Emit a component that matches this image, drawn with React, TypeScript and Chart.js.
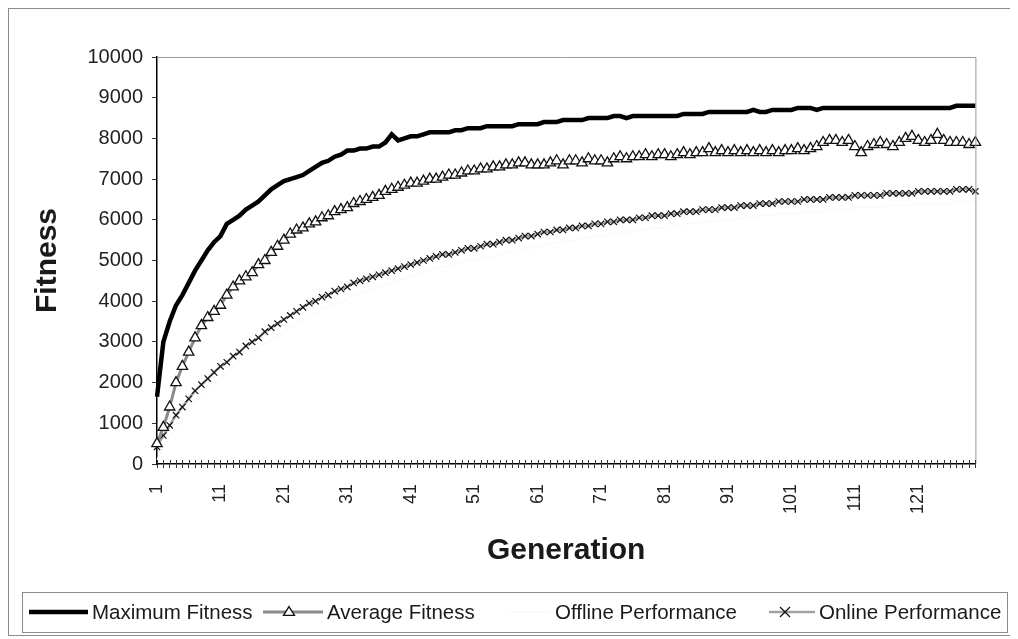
import React, { useEffect, useRef } from 'react';
import { Chart, registerables } from 'chart.js';

Chart.register(...registerables);

const generations: string[] = Array.from({ length: 130 }, (_, i) => String(i + 1));

const seriesNames = ['Maximum Fitness', 'Average Fitness', 'Offline Performance', 'Online Performance'];

const maximumFitness = [
  1650, 3000, 3500, 3900, 4150, 4450, 4750, 5000, 5250, 5450,
  5600, 5900, 6000, 6100, 6250, 6350, 6450, 6600, 6750, 6850,
  6950, 7000, 7050, 7100, 7200, 7300, 7400, 7450, 7550, 7600,
  7700, 7700, 7750, 7750, 7800, 7800, 7900, 8100, 7950, 8000,
  8050, 8050, 8100, 8150, 8150, 8150, 8150, 8200, 8200, 8250,
  8250, 8250, 8300, 8300, 8300, 8300, 8300, 8350, 8350, 8350,
  8350, 8400, 8400, 8400, 8450, 8450, 8450, 8450, 8500, 8500,
  8500, 8500, 8550, 8550, 8500, 8550, 8550, 8550, 8550, 8550,
  8550, 8550, 8550, 8600, 8600, 8600, 8600, 8650, 8650, 8650,
  8650, 8650, 8650, 8650, 8700, 8650, 8650, 8700, 8700, 8700,
  8700, 8750, 8750, 8750, 8700, 8750, 8750, 8750, 8750, 8750,
  8750, 8750, 8750, 8750, 8750, 8750, 8750, 8750, 8750, 8750,
  8750, 8750, 8750, 8750, 8750, 8750, 8800, 8800, 8800, 8800,
];

const averageFitness = [
  500, 900, 1400, 2000, 2400, 2750, 3100, 3400, 3600, 3750,
  3900, 4150, 4350, 4500, 4600, 4700, 4900, 5000, 5200, 5350,
  5500, 5650, 5750, 5800, 5900, 5950, 6050, 6100, 6200, 6250,
  6300, 6400, 6450, 6500, 6550, 6600, 6700, 6750, 6800, 6850,
  6900, 6900, 6950, 7000, 7000, 7050, 7100, 7100, 7150, 7200,
  7200, 7250, 7250, 7300, 7300, 7350, 7350, 7400, 7400, 7350,
  7350, 7350, 7400, 7450, 7350, 7450, 7450, 7400, 7500, 7450,
  7450, 7400, 7500, 7550, 7500, 7550, 7550, 7600, 7550, 7600,
  7600, 7550, 7600, 7650, 7600, 7650, 7650, 7750, 7650, 7700,
  7650, 7700, 7650, 7700, 7650, 7700, 7650, 7700, 7650, 7700,
  7700, 7750, 7700, 7750, 7800, 7900, 7950, 7950, 7900, 7950,
  7800, 7650, 7800, 7850, 7900, 7850, 7800, 7900, 8000, 8050,
  7950, 7900, 7950, 8100, 7950, 7900, 7900, 7900, 7850, 7900,
];

const offlinePerformance = [
  100, 400, 650, 900, 1100, 1300, 1500, 1650, 1800, 1950,
  2100, 2250, 2400, 2500, 2650, 2750, 2850, 2950, 3050, 3150,
  3250, 3350, 3450, 3550, 3650, 3700, 3800, 3850, 3950, 4000,
  4050, 4150, 4200, 4250, 4300, 4350, 4400, 4450, 4500, 4550,
  4600, 4650, 4700, 4750, 4800, 4850, 4850, 4900, 4950, 5000,
  5000, 5050, 5100, 5100, 5150, 5200, 5200, 5250, 5300, 5300,
  5350, 5400, 5400, 5450, 5450, 5500, 5500, 5550, 5550, 5600,
  5600, 5650, 5650, 5700, 5700, 5700, 5750, 5750, 5800, 5800,
  5800, 5850, 5850, 5900, 5900, 5900, 5950, 5950, 5950, 6000,
  6000, 6000, 6050, 6050, 6050, 6100, 6100, 6100, 6150, 6150,
  6150, 6150, 6200, 6200, 6200, 6200, 6250, 6250, 6250, 6250,
  6300, 6300, 6300, 6300, 6300, 6350, 6350, 6350, 6350, 6350,
  6400, 6400, 6400, 6400, 6400, 6400, 6450, 6450, 6450, 6450,
];

const onlinePerformance = [
  420, 700, 950, 1200, 1400, 1600, 1800, 1950, 2100, 2250,
  2400, 2500, 2650, 2750, 2900, 3000, 3100, 3250, 3350, 3450,
  3550, 3650, 3750, 3850, 3950, 4000, 4100, 4150, 4250, 4300,
  4350, 4450, 4500, 4550, 4600, 4650, 4700, 4750, 4800, 4850,
  4900, 4950, 5000, 5050, 5100, 5150, 5150, 5200, 5250, 5300,
  5300, 5350, 5400, 5400, 5450, 5500, 5500, 5550, 5600, 5600,
  5650, 5700, 5700, 5750, 5750, 5800, 5800, 5850, 5850, 5900,
  5900, 5950, 5950, 6000, 6000, 6000, 6050, 6050, 6100, 6100,
  6100, 6150, 6150, 6200, 6200, 6200, 6250, 6250, 6250, 6300,
  6300, 6300, 6350, 6350, 6350, 6400, 6400, 6400, 6450, 6450,
  6450, 6450, 6500, 6500, 6500, 6500, 6550, 6550, 6550, 6550,
  6600, 6600, 6600, 6600, 6600, 6650, 6650, 6650, 6650, 6650,
  6700, 6700, 6700, 6700, 6700, 6700, 6750, 6750, 6750, 6700,
];

const FONT = '"Liberation Sans", Arial, Helvetica, sans-serif';
const W = 1004;
const H = 626;

const COLORS = {
  max: '#000000',
  avgLine: '#8a8a8a',
  offline: '#fbfbf4',
  onlineLine: '#a3a3a3',
  marker: '#111111',
  text: '#1a1a1a',
};

function drawTriangle(ctx: CanvasRenderingContext2D, x: number, y: number, r: number) {
  const h = r * 1.6;
  ctx.beginPath();
  ctx.moveTo(x, y - h * 0.62);
  ctx.lineTo(x + r, y + h * 0.38);
  ctx.lineTo(x - r, y + h * 0.38);
  ctx.closePath();
  ctx.fillStyle = '#fff';
  ctx.fill();
  ctx.strokeStyle = COLORS.marker;
  ctx.lineWidth = 1.3;
  ctx.stroke();
}

function drawX(ctx: CanvasRenderingContext2D, x: number, y: number, r: number) {
  ctx.beginPath();
  ctx.moveTo(x - r, y - r);
  ctx.lineTo(x + r, y + r);
  ctx.moveTo(x + r, y - r);
  ctx.lineTo(x - r, y + r);
  ctx.strokeStyle = COLORS.marker;
  ctx.lineWidth = 1.3;
  ctx.stroke();
}

const framePlugin = {
  id: 'excelFrame',
  afterDraw(chart: any) {
    const { ctx, chartArea: a, scales } = chart;
    ctx.save();
    // plot area border (top / right)
    ctx.strokeStyle = '#9a9a9a';
    ctx.lineWidth = 1;
    ctx.beginPath();
    ctx.moveTo(a.left, a.top + 0.5);
    ctx.lineTo(a.right + 0.5, a.top + 0.5);
    ctx.lineTo(a.right + 0.5, a.bottom);
    ctx.stroke();
    // inner half of the category tick marks
    const xs = scales.x;
    ctx.strokeStyle = '#333';
    ctx.beginPath();
    for (let i = 0; i < generations.length; i++) {
      const px = Math.round(xs.getPixelForValue(i)) + 0.5;
      ctx.moveTo(px, a.bottom - 4);
      ctx.lineTo(px, a.bottom);
    }
    ctx.stroke();

    // legend box
    const bx = 13, by = 583, bw = 985, bh = 40;
    ctx.strokeStyle = '#8c8c8c';
    ctx.lineWidth = 1;
    ctx.strokeRect(bx + 0.5, by + 0.5, bw, bh);
    const cy = by + bh / 2;
    ctx.font = `20.5px ${FONT}`;
    ctx.fillStyle = COLORS.text;
    ctx.textBaseline = 'middle';
    ctx.textAlign = 'left';

    // Maximum Fitness
    ctx.strokeStyle = COLORS.max;
    ctx.lineWidth = 4.5;
    ctx.beginPath();
    ctx.moveTo(20, cy);
    ctx.lineTo(79, cy);
    ctx.stroke();
    ctx.fillText(seriesNames[0], 83, cy + 1);

    // Average Fitness
    ctx.strokeStyle = COLORS.avgLine;
    ctx.lineWidth = 3;
    ctx.beginPath();
    ctx.moveTo(254, cy);
    ctx.lineTo(314, cy);
    ctx.stroke();
    drawTriangle(ctx, 280, cy, 5.5);
    ctx.fillStyle = COLORS.text;
    ctx.fillText(seriesNames[1], 318, cy + 1);

    // Offline Performance
    ctx.strokeStyle = COLORS.offline;
    ctx.lineWidth = 1.5;
    ctx.beginPath();
    ctx.moveTo(500, cy);
    ctx.lineTo(540, cy);
    ctx.stroke();
    ctx.fillStyle = COLORS.text;
    ctx.fillText(seriesNames[2], 546, cy + 1);

    // Online Performance
    ctx.strokeStyle = COLORS.onlineLine;
    ctx.lineWidth = 2.5;
    ctx.beginPath();
    ctx.moveTo(760, cy);
    ctx.lineTo(806, cy);
    ctx.stroke();
    drawX(ctx, 776, cy, 5);
    ctx.fillStyle = COLORS.text;
    ctx.fillText(seriesNames[3], 810, cy + 1);

    ctx.restore();
  },
};

export default function App() {
  const canvasRef = useRef<HTMLCanvasElement | null>(null);

  useEffect(() => {
    const canvas = canvasRef.current;
    if (!canvas) return;
    const chart = new Chart(canvas, {
      type: 'line',
      data: {
        labels: generations,
        datasets: [
          {
            label: seriesNames[0],
            data: maximumFitness,
            borderColor: COLORS.max,
            borderWidth: 4.5,
            pointRadius: 0,
            tension: 0,
          },
          {
            label: seriesNames[1],
            data: averageFitness,
            borderColor: COLORS.avgLine,
            borderWidth: 3,
            pointStyle: 'triangle',
            pointRadius: 6,
            pointBackgroundColor: '#ffffff',
            pointBorderColor: COLORS.marker,
            pointBorderWidth: 1.3,
            tension: 0,
          },
          {
            label: seriesNames[2],
            data: offlinePerformance,
            borderColor: COLORS.offline,
            borderWidth: 1.5,
            pointRadius: 0,
            tension: 0,
          },
          {
            label: seriesNames[3],
            data: onlinePerformance,
            borderColor: COLORS.onlineLine,
            borderWidth: 2.5,
            pointStyle: 'crossRot',
            pointRadius: 4.5,
            pointBorderColor: COLORS.marker,
            pointBorderWidth: 1.2,
            tension: 0,
          },
        ],
      },
      options: {
        responsive: false,
        animation: false,
        devicePixelRatio: 1,
        layout: { padding: { left: 17, top: 48, right: 33, bottom: 62 } },
        plugins: {
          legend: { display: false },
          tooltip: { enabled: false },
        },
        scales: {
          x: {
            type: 'category',
            offset: false,
            grid: {
              display: true,
              drawOnChartArea: false,
              drawTicks: true,
              tickLength: 4,
              color: '#333',
              offset: false,
            },
            border: { display: true, color: '#000', width: 1.5 },
            ticks: {
              autoSkip: false,
              maxRotation: 90,
              minRotation: 90,
              padding: 16,
              color: '#222',
              font: { family: FONT, size: 18 },
              callback: (_v: any, i: number) => (i % 10 === 0 ? generations[i] : ''),
            },
            title: {
              display: true,
              text: 'Generation',
              color: COLORS.text,
              font: { family: FONT, size: 30, weight: 'bold' },
              padding: { top: 4, bottom: 4 },
            },
            afterFit: (s: any) => {
              s.height = 109;
            },
          },
          y: {
            min: 0,
            max: 10000,
            grid: {
              display: true,
              drawOnChartArea: false,
              drawTicks: true,
              tickLength: 5,
              color: '#333',
            },
            border: { display: true, color: '#000', width: 1.5 },
            ticks: {
              stepSize: 1000,
              padding: 9,
              color: '#222',
              font: { family: FONT, size: 20 },
              callback: (v: any) => String(v),
            },
            title: {
              display: true,
              text: 'Fitness',
              color: COLORS.text,
              font: { family: FONT, size: 30, weight: 'bold' },
              padding: { top: 4, bottom: 4 },
            },
            afterFit: (s: any) => {
              s.width = 131;
            },
          },
        },
      },
      plugins: [framePlugin],
    });
    return () => chart.destroy();
  }, []);

  return (
    <div
      style={{
        width: 1006,
        height: 628,
        border: '1px solid #8c8c8c',
        boxSizing: 'border-box',
        background: '#fff',
      }}
    >
      <canvas ref={canvasRef} width={W} height={H} style={{ display: 'block', width: W, height: H }} />
    </div>
  );
}
